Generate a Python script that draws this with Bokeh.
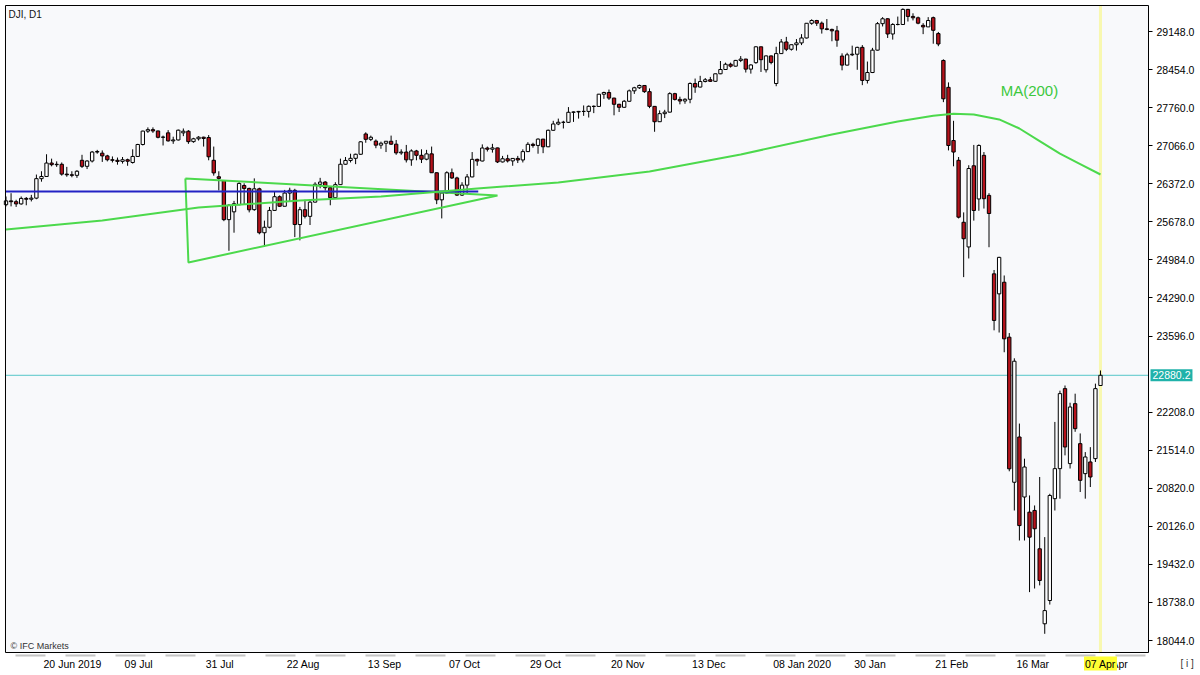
from bokeh.plotting import figure
from bokeh.models import (ColumnDataSource, Range1d, FixedTicker, PrintfTickFormatter, Label,
                          BoxAnnotation, CustomJSTickFormatter)
from bokeh.embed import file_html
from bokeh.resources import INLINE

# ---------------- data (daily bars, left to right) ----------------
opens = [
    25990, 26060, 26045, 26005, 26105, 26090, 26110, 26465, 26505, 26750,
    26720, 26727, 26548, 26536, 26526, 26800, 26690, 26787, 26950, 26930,
    26880, 26810, 26800, 26780, 26810, 26760, 26870, 27088, 27332, 27359,
    27335, 27219, 27300, 27154, 27171, 27300, 27330, 27140, 27192, 27221,
    27215, 26800, 26500, 26430, 25718, 25860, 25990, 26340, 26287, 25900,
    26280, 25479, 25579, 25886, 26136, 25962, 26202, 26252, 25629, 25899,
    25778, 26037, 26363, 26403, 26300, 26118, 26356, 26728, 26797, 26836,
    26910, 27280, 27182, 27150, 27076, 27111, 27147, 27094, 26935, 26950,
    26808, 26970, 26891, 26820, 26917, 26573, 26079, 26202, 26573, 26478,
    26165, 26347, 26497, 26817, 26787, 27024, 27002, 27026, 26770, 26828,
    26789, 26834, 26806, 26958, 27091, 27071, 27186, 27046, 27347, 27462,
    27493, 27492, 27675, 27681, 27691, 27691, 27784, 27782, 28005, 28036,
    27934, 27821, 27766, 27876, 28066, 28122, 28164, 28051, 27783, 27503,
    27650, 27678, 28015, 27910, 27881, 27912, 28200, 28135, 28236, 28268,
    28240, 28377, 28455, 28551, 28516, 28621, 28645, 28462, 28580, 28869,
    28450, 28703, 28200, 28745, 28957, 28824, 28907, 28940, 29030, 29298,
    29348, 29300, 29196, 29186, 29160, 28700, 28535, 28723, 28734, 28859,
    28256, 28400, 28808, 29291, 29380, 29103, 29276, 29276, 29551, 29423,
    29398, 29260, 29232, 29400, 29110, 28620, 28130, 27160, 26800, 25670,
    25220, 26700, 26095, 26890, 26160, 24730, 24365, 24577, 23575, 20930,
    21755, 20661, 20385, 20416, 19717, 18350, 18774, 20631, 21178, 22637,
    21270, 22363, 21634, 21087, 21300, 21361, 22694]
highs = [
    26140, 26200, 26080, 26140, 26130, 26170, 26540, 26600, 26910, 26830,
    26780, 26760, 26680, 26600, 26620, 26900, 26800, 26970, 26990, 26980,
    26900, 26870, 26850, 26860, 26830, 27000, 27100, 27340, 27400, 27400,
    27340, 27250, 27350, 27230, 27360, 27380, 27350, 27210, 27240, 27230,
    27260, 27050, 26600, 26440, 26000, 26060, 26400, 26380, 26300, 26470,
    26300, 25700, 25950, 26230, 26160, 26260, 26300, 26280, 25950, 26080,
    26060, 26400, 26480, 26420, 26330, 26400, 26830, 26860, 26920, 26920,
    27150, 27310, 27250, 27180, 27140, 27150, 27250, 27170, 27000, 27080,
    27000, 26990, 27000, 26990, 27050, 26580, 26240, 26600, 26650, 26500,
    26400, 26550, 26950, 26830, 27090, 27050, 27100, 27030, 26880, 26900,
    26840, 26880, 27000, 27130, 27120, 27200, 27190, 27360, 27520, 27560,
    27520, 27770, 27690, 27700, 27800, 27800, 27800, 28010, 28050, 28090,
    27940, 27830, 27900, 28090, 28140, 28180, 28170, 28110, 27790, 27710,
    27720, 28040, 28030, 27960, 27930, 28220, 28290, 28340, 28300, 28320,
    28380, 28610, 28580, 28580, 28630, 28700, 28650, 28550, 28880, 28870,
    28710, 28710, 28870, 29010, 29050, 28910, 29010, 29100, 29300, 29370,
    29360, 29330, 29375, 29200, 29250, 28750, 28760, 28890, 28870, 28900,
    28600, 28850, 29320, 29410, 29390, 29300, 29420, 29570, 29560, 29480,
    29420, 29300, 29410, 29420, 29140, 28640, 28220, 27520, 26860, 25850,
    26710, 27080, 27090, 26950, 26200, 24800, 25040, 24700, 23650, 23190,
    22000, 21360, 20690, 20507, 21026, 19930, 20720, 22030, 22600, 22694,
    22380, 22545, 21820, 21480, 21570, 22728, 22968]
lows = [
    25960, 25960, 25950, 25990, 25980, 26050, 26090, 26410, 26500, 26690,
    26680, 26520, 26500, 26490, 26480, 26660, 26640, 26760, 26920, 26770,
    26780, 26760, 26720, 26740, 26700, 26740, 26860, 27070, 27300, 27300,
    27200, 27070, 27140, 27100, 27160, 27240, 27100, 27120, 27160, 27050,
    26800, 26520, 26250, 25690, 25150, 25480, 25980, 26000, 25850, 25880,
    25450, 25220, 25560, 25880, 25950, 25960, 26050, 25400, 25340, 25740,
    25620, 26030, 26290, 26250, 25980, 26110, 26350, 26720, 26760, 26730,
    26900, 27120, 27150, 27020, 27010, 26950, 27080, 26900, 26900, 26760,
    26700, 26800, 26750, 26800, 26570, 26000, 25740, 26190, 26460, 26150,
    26150, 26200, 26490, 26700, 26780, 26960, 26940, 26750, 26760, 26760,
    26700, 26750, 26760, 26950, 27030, 26920, 26930, 27040, 27340, 27440,
    27380, 27480, 27500, 27560, 27610, 27580, 27660, 27780, 27920, 27900,
    27620, 27680, 27760, 27870, 28010, 28100, 28030, 27750, 27320, 27500,
    27570, 27670, 27890, 27820, 27830, 27840, 28030, 28130, 28220, 28230,
    28230, 28370, 28450, 28490, 28510, 28590, 28400, 28380, 28560, 28410,
    28400, 28550, 28150, 28740, 28790, 28800, 28800, 28900, 29020, 29270,
    29250, 29110, 29170, 28970, 28870, 28440, 28530, 28700, 28450, 28170,
    28200, 28390, 28800, 29240, 29030, 29000, 29260, 29270, 29330, 29350,
    29280, 29100, 29230, 28925, 28880, 27860, 26980, 26690, 25740, 24670,
    25010, 25700, 25880, 25920, 25215, 23700, 23660, 23300, 21130, 20415,
    19868, 19868, 18927, 18993, 19050, 18167, 18700, 20415, 20630, 21420,
    21180, 21850, 20752, 20631, 20843, 21300, 22690]
closes = [
    26060, 26045, 26005, 26105, 26090, 26110, 26465, 26505, 26750, 26720,
    26727, 26548, 26536, 26526, 26600, 26690, 26787, 26950, 26960, 26880,
    26810, 26800, 26780, 26810, 26783, 26870, 27088, 27332, 27359, 27335,
    27219, 27223, 27154, 27171, 27349, 27330, 27140, 27192, 27221, 27198,
    26864, 26570, 26470, 25718, 25980, 26008, 26378, 26287, 25897, 26280,
    25479, 25579, 25886, 26136, 25962, 26202, 26252, 25629, 25899, 25778,
    26037, 26363, 26403, 26300, 26118, 26356, 26728, 26797, 26836, 26910,
    27137, 27182, 27220, 27076, 27111, 27147, 27094, 26935, 26950, 26808,
    26970, 26891, 26820, 26917, 26573, 26079, 26202, 26573, 26478, 26165,
    26347, 26497, 26817, 26787, 27024, 27002, 27026, 26770, 26828, 26789,
    26834, 26806, 26958, 27091, 27071, 27186, 27046, 27347, 27462, 27493,
    27492, 27675, 27681, 27691, 27691, 27784, 27782, 28005, 28036, 27934,
    27821, 27766, 27876, 28066, 28122, 28164, 28051, 27783, 27503, 27650,
    27678, 28015, 27910, 27881, 27912, 28200, 28135, 28236, 28268, 28240,
    28377, 28455, 28551, 28516, 28621, 28645, 28462, 28538, 28869, 28634,
    28703, 28584, 28745, 28957, 28824, 28907, 28940, 29030, 29298, 29348,
    29300, 29196, 29186, 29160, 28990, 28535, 28723, 28734, 28859, 28256,
    28400, 28808, 29291, 29380, 29103, 29276, 29276, 29551, 29423, 29398,
    29300, 29232, 29348, 29170, 28920, 27921, 27070, 26950, 25763, 25370,
    26650, 25885, 27070, 26100, 25830, 23880, 25030, 23545, 21175, 23137,
    20140, 21208, 19929, 20082, 19139, 18590, 20689, 21178, 22546, 21573,
    22302, 21907, 20965, 21391, 21026, 22637, 22880.2]

# moving average MA(200), read at these bars
ma_bar = [0, 19, 38, 58, 74, 93, 109, 127, 145, 163, 176, 183, 187, 191, 196, 200, 204, 208,
          212, 216]
ma_val = [25538, 25702, 25939, 26067, 26140, 26286, 26395, 26596, 26906, 27270, 27507, 27610,
          27650, 27635, 27545, 27380, 27150, 26920, 26730, 26541]

# drawn objects: triangle pattern and horizontal blue trendline
tri_bar = [35.4, 36.0, 97.0, 35.4]
tri_val = [26468, 24937, 26158, 26468]
blue_end_bar = 93.2
blue_val = 26231

current_price = 22880.2
current_bar = 216

x_label_bars = [8, 24, 40, 56, 72, 88, 104, 120, 136, 152, 168, 184, 200, 216]
x_labels = ["20 Jun 2019", "09 Jul", "31 Jul", "22 Aug", "13 Sep", "07 Oct", "29 Oct",
            "20 Nov", "13 Dec", "08 Jan 2020", "30 Jan", "21 Feb", "16 Mar", "07 Apr"]
y_ticks = [18044, 18738, 19432, 20126, 20820, 21514, 22208, 23596, 24290, 24984,
           25678, 26372, 27066, 27760, 28454, 29148]

# ---------------- geometry (view window and chart box) ----------------
W, H = 1200, 675
x_lo, x_hi = -1.0855, 235.74          # bar units across the whole canvas
y_lo, y_hi = 17406.9, 29713.2         # price units across the whole canvas
box_left, box_right = -0.099, 225.48  # chart box in bar units
box_bottom, box_top = 17826, 29622    # chart box in price units
px_bar = W / (x_hi - x_lo)
px_price = H / (y_hi - y_lo)

FONT = "Liberation Sans"
FS = 10.5
GREEN = "#4CD94C"

def dx(px):
    return px / px_bar
def dy(px):
    return px / px_price

p = figure(width=W, height=H, x_range=Range1d(x_lo, x_hi), y_range=Range1d(y_lo, y_hi),
           y_axis_location="right", toolbar_location=None, output_backend="svg",
           background_fill_color="white", border_fill_color="white",
           min_border_left=0, min_border_top=0, min_border_right=0, min_border_bottom=0)
p.outline_line_color = None
p.grid.visible = False
p.title.visible = False

# chart box background
p.add_layout(BoxAnnotation(left=box_left, right=box_right, bottom=box_bottom, top=box_top,
                           fill_color="#F8F9FB", fill_alpha=1, line_color=None,
                           level="underlay"))
# current-bar marker (pale yellow vertical band)
p.add_layout(BoxAnnotation(left=current_bar - 0.3, right=current_bar + 0.3, bottom=box_bottom,
                           top=box_top, fill_color="#F8F8B0", fill_alpha=1, line_color=None,
                           level="underlay"))

# bid line
p.segment(x0=[box_left], y0=[current_price], x1=[box_right], y1=[current_price],
          line_color="#55C6C9", line_width=1)

n = len(opens)
src = ColumnDataSource(dict(
    x=list(range(n)),
    top=[max(o, c) for o, c in zip(opens, closes)],
    bottom=[min(o, c) for o, c in zip(opens, closes)],
    high=highs, low=lows,
    fill=["white" if c >= o else "#B5121B" for o, c in zip(opens, closes)],
))
p.segment(x0="x", y0="low", x1="x", y1="high", source=src, line_color="black", line_width=1)
p.vbar(x="x", width=0.66, top="top", bottom="bottom", source=src,
       fill_color="fill", line_color="black", line_width=1)

p.line(tri_bar, tri_val, line_color=GREEN, line_width=2)
p.segment(x0=[box_left], y0=[blue_val], x1=[blue_end_bar], y1=[blue_val],
          line_color="#2222C4", line_width=2)
p.line(ma_bar, ma_val, line_color=GREEN, line_width=2, line_join="round")

# frame line on top of everything in the box
p.add_layout(BoxAnnotation(left=box_left, right=box_right, bottom=box_bottom, top=box_top,
                           fill_alpha=0, line_color="black", line_alpha=1, line_width=1,
                           level="overlay"))
# light grey dashes under the time axis line
p.segment(x0=[box_left], y0=[box_bottom - dy(3)], x1=[box_right], y1=[box_bottom - dy(3)],
          line_color="#C4C4C4", line_width=2, line_dash="30 20", line_dash_offset=40)

# ---------------- axes (pinned to the chart box edges) ----------------
yax = p.yaxis[0]
yax.fixed_location = box_right
yax.ticker = FixedTicker(ticks=y_ticks)
yax.formatter = PrintfTickFormatter(format="%.1f")
yax.major_label_text_font = FONT
yax.major_label_text_font_size = f"{FS}px"
yax.major_label_text_color = "black"
yax.major_tick_in = 0
yax.major_tick_out = 4
yax.minor_tick_in = 0
yax.minor_tick_out = 0
yax.major_label_standoff = 4
yax.axis_line_color = None

CHAR_W = {"0": .556, "1": .556, "2": .556, "3": .556, "4": .556, "5": .556, "6": .556,
          "7": .556, "8": .556, "9": .556, " ": .278, "J": .5, "A": .667, "S": .667,
          "O": .778, "N": .722, "D": .722, "F": .611, "M": .833, "u": .556, "n": .556,
          "l": .222, "g": .556, "e": .556, "p": .556, "c": .5, "t": .278, "o": .556,
          "v": .5, "a": .556, "b": .556, "r": .333}
def text_px(s):
    return sum(CHAR_W.get(ch, .556) for ch in s) * FS

# MT4 places each date label starting at its bar: centre = bar + half the label width
tick_pos = [b + text_px(t) / 2 / px_bar - dx(3) for b, t in zip(x_label_bars, x_labels)]
xax = p.xaxis[0]
xax.fixed_location = box_bottom
xax.ticker = FixedTicker(ticks=tick_pos)
xax.formatter = CustomJSTickFormatter(args=dict(pos=tick_pos, labs=x_labels), code="""
    let best = 0, d = 1e9;
    for (let i = 0; i < pos.length; i++) {
        const e = Math.abs(pos[i] - tick);
        if (e < d) { d = e; best = i; }
    }
    return labs[best];
""")
xax.major_label_text_font = FONT
xax.major_label_text_font_size = f"{FS}px"
xax.major_label_text_color = "black"
xax.major_tick_in = 0
xax.major_tick_out = 0
xax.minor_tick_in = 0
xax.minor_tick_out = 0
xax.major_label_standoff = 5
xax.axis_line_color = None

# ---------------- texts ----------------
p.add_layout(Label(x=box_left + dx(3), y=box_top - dy(9), text="DJI, D1", text_font=FONT,
                   text_font_size="10px", text_color="#111111", text_baseline="middle"))
p.add_layout(Label(x=box_left + dx(5), y=box_bottom + dy(7), text="\u00a9 IFC Markets",
                   text_font=FONT, text_font_size="9px", text_color="#333333",
                   text_baseline="middle"))
p.add_layout(Label(x=196.3, y=28072, text="MA(200)", text_font=FONT, text_font_size="15px",
                   text_color="#3DC83D", text_baseline="middle"))
p.add_layout(Label(x=box_right + dx(2), y=current_price, text="22880.2", text_font=FONT,
                   text_font_size=f"{FS}px", text_color="white", text_baseline="middle",
                   background_fill_color="#20B2AA", background_fill_alpha=1, padding=2))
p.add_layout(Label(x=current_bar, y=box_bottom - dy(4), text="07 Apr", text_font=FONT,
                   text_font_size=f"{FS}px", text_color="black", text_baseline="top",
                   text_align="center", background_fill_color="#FFFF33",
                   background_fill_alpha=1, padding=1))
p.add_layout(Label(x=box_right + dx(32), y=box_bottom - dy(11), text="[ i ]", text_font=FONT,
                   text_font_size="10px", text_color="#333333", text_baseline="middle"))

open("out.html", "w").write(file_html(p, INLINE))
